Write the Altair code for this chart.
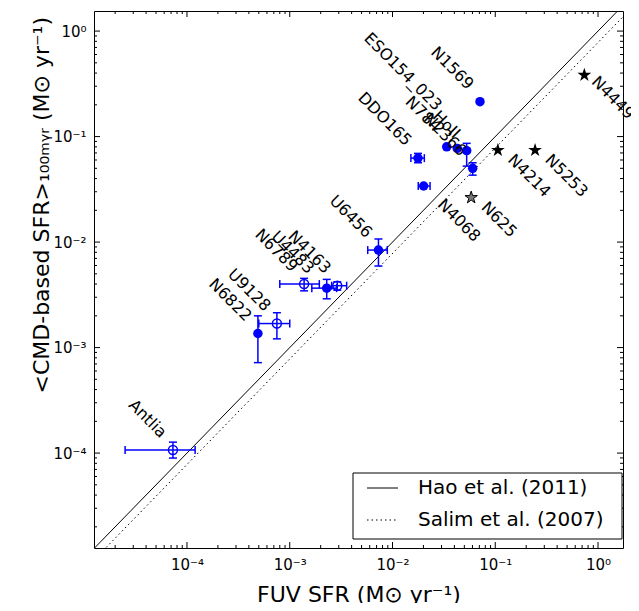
import altair as alt
import pandas as pd

# ---------------- data ----------------
names = ["Antlia", "N6822", "U9128", "N6789", "U4483", "N4163", "U6456", "DDO165",
         "N4068", "ESO154_023", "N784", "HoII", "N2366", "N1569",
         "N625", "N4214", "N5253", "N4449"]
fuv = [7.3e-5, 4.9e-4, 7.5e-4, 1.38e-3, 2.29e-3, 2.9e-3, 7.3e-3, 1.77e-2,
       2.01e-2, 3.37e-2, 4.27e-2, 5.27e-2, 6.03e-2, 7.1e-2,
       5.83e-2, 0.106, 0.244, 0.736]
cmd = [1.07e-4, 1.36e-3, 1.69e-3, 4.0e-3, 3.66e-3, 3.86e-3, 8.4e-3, 6.25e-2,
       3.4e-2, 8.0e-2, 7.73e-2, 7.36e-2, 5.0e-2, 0.214,
       2.64e-2, 7.44e-2, 7.44e-2, 0.383]
fuv_lo = [2.5e-5, None, 5.0e-4, 8.0e-4, 1.64e-3, 2.56e-3, 5.74e-3, 1.51e-2,
          1.78e-2, None, None, None, None, None, None, None, None, None]
fuv_hi = [1.2e-4, None, 1.0e-3, 1.94e-3, 2.86e-3, 3.58e-3, 8.9e-3, 2.04e-2,
          2.32e-2, None, None, None, None, None, None, None, None, None]
cmd_lo = [8.97e-5, 7.2e-4, 1.21e-3, 3.45e-3, 2.9e-3, 3.5e-3, 5.93e-3, 5.65e-2,
          None, None, None, 5.25e-2, 4.31e-2, None, None, None, None, None]
cmd_hi = [1.27e-4, 2.0e-3, 2.14e-3, 4.53e-3, 4.43e-3, 4.2e-3, 1.07e-2, 6.93e-2,
          None, None, None, 8.63e-2, 5.65e-2, None, None, None, None, None]
kind = ["open", "filled", "open", "open", "filled", "open", "filled", "filled",
        "filled", "filled", "filled", "filled", "filled", "filled",
        "star_grey", "star", "star", "star"]
label_side = ["left"] * 8 + ["right"] + ["left"] * 5 + ["right"] * 4

line_x = [1.0e-5, 2.0]
hao_y = [1.0e-5, 2.0]
salim_y = [7.8e-6, 1.56]
rel_names = ["Hao et al. (2011)", "Salim et al. (2007)"]

major_vals = [1e-4, 1e-3, 1e-2, 1e-1, 1.0]
major_labels = ["10\u207b\u2074", "10\u207b\u00b3", "10\u207b\u00b2", "10\u207b\u00b9", "10\u2070"]

x_domain = [1.245e-5, 1.75]
y_domain = [1.26e-5, 1.55]

W, H = 529, 537

# ---------------- frames ----------------
df = pd.DataFrame({"name": names, "fuv": fuv, "cmd": cmd, "kind": kind, "side": label_side})
err_df = pd.DataFrame({"name": names, "fuv": fuv, "cmd": cmd, "fuv_lo": fuv_lo,
                       "fuv_hi": fuv_hi, "cmd_lo": cmd_lo, "cmd_hi": cmd_hi})
xerr_df = err_df.dropna(subset=["fuv_lo"])[["fuv", "cmd", "fuv_lo", "fuv_hi"]]
yerr_df = err_df.dropna(subset=["cmd_lo"])[["fuv", "cmd", "cmd_lo", "cmd_hi"]]
hao_df = pd.DataFrame({"x": line_x, "y": hao_y})
salim_df = pd.DataFrame({"x": line_x, "y": salim_y})

minor_vals = [k * 10.0 ** e for e in range(-5, 1) for k in range(2, 10)]
minor_x = [v for v in minor_vals if x_domain[0] <= v <= x_domain[1]]
minor_y = [v for v in minor_vals if y_domain[0] <= v <= y_domain[1]]

label_expr = " : ".join(
    f"abs(datum.value - {v}) < {v * 0.01} ? '{lab}'" for v, lab in zip(major_vals, major_labels)
) + " : ''"

FONT = "DejaVu Sans"
BLUE = "#0000ff"
# five-pointed star symbol path (unit box)
STAR = ("M0,-1L0.2245,-0.309L0.9511,-0.309L0.3633,0.118L0.5878,0.809L0,0.382"
        "L-0.5878,0.809L-0.3633,0.118L-0.9511,-0.309L-0.2245,-0.309Z")

xscale = alt.Scale(type="log", domain=x_domain, nice=False)
yscale = alt.Scale(type="log", domain=y_domain, nice=False)

X_AXIS = alt.Axis(values=major_vals, labelExpr=label_expr,
                  ticks=False, domain=False, grid=False, labelFont=FONT,
                  labelFontSize=15, labelColor="black", labelPadding=9,
                  title="FUV SFR (M\u2299 yr\u207b\u00b9)", titleFont=FONT,
                  titleFontSize=22, titleFontWeight="normal", titleColor="black",
                  titlePadding=12)
Y_AXIS = alt.Axis(values=major_vals, labelExpr=label_expr,
                  ticks=False, domain=False, grid=False, labelFont=FONT,
                  labelFontSize=15, labelColor="black", labelPadding=8,
                  labelBaseline="middle",
                  title="<CMD-based SFR>\u2081\u2080\u2080\u2098\u1d67\u1d63 (M\u2299 yr\u207b\u00b9)",
                  titleFont=FONT, titleFontSize=22, titleFontWeight="normal",
                  titleColor="black", titleAngle=270, titleAlign="left",
                  titleBaseline="alphabetic", titleX=-46, titleY=382)


def X(field):
    return alt.X(field, type="quantitative", scale=xscale, axis=X_AXIS)


def Y(field):
    return alt.Y(field, type="quantitative", scale=yscale, axis=Y_AXIS)


opened = alt.Chart(df).transform_filter(alt.FieldEqualPredicate(field="kind", equal="open")).mark_point(
    shape="circle", filled=False, size=80, color=BLUE, strokeWidth=1.5, opacity=1).encode(
    x=X("fuv"), y=Y("cmd"))

# inward ticks on all four sides, placed through the scales
tick_layers = []
for vals, length in ((major_vals, 6), (minor_x, 3)):
    tdf = pd.DataFrame({"v": vals})
    for y0, y1 in ((H, H - length), (0, length)):
        tick_layers.append(alt.Chart(tdf).mark_rule(color="black", strokeWidth=1).encode(
            x=X("v"), y=alt.value(y0), y2=alt.value(y1)))
for vals, length in ((major_vals, 6), (minor_y, 3)):
    tdf = pd.DataFrame({"v": vals})
    for x0, x1 in ((0, length), (W, W - length)):
        tick_layers.append(alt.Chart(tdf).mark_rule(color="black", strokeWidth=1).encode(
            y=Y("v"), x=alt.value(x0), x2=alt.value(x1)))

hao_line = alt.Chart(hao_df).mark_line(clip=True, color="black", strokeWidth=1).encode(
    x=X("x"), y=Y("y"))
salim_line = alt.Chart(salim_df).mark_line(clip=True, color="black", strokeWidth=1,
                                           strokeDash=[1.5, 3]).encode(x=X("x"), y=Y("y"))

xerr = alt.Chart(xerr_df).mark_rule(color=BLUE, strokeWidth=1.5).encode(
    x=X("fuv_lo"), x2="fuv_hi:Q", y=Y("cmd"))
yerr = alt.Chart(yerr_df).mark_rule(color=BLUE, strokeWidth=1.5).encode(
    x=X("fuv"), y=Y("cmd_lo"), y2="cmd_hi:Q")
caps = []
for f in ("fuv_lo", "fuv_hi"):
    caps.append(alt.Chart(xerr_df).mark_tick(
        orient="vertical", size=8, thickness=1.5, color=BLUE, opacity=1).encode(
        x=X(f), y=Y("cmd")))
for f in ("cmd_lo", "cmd_hi"):
    caps.append(alt.Chart(yerr_df).mark_tick(
        orient="horizontal", size=8, thickness=1.5, color=BLUE, opacity=1).encode(
        x=X("fuv"), y=Y(f)))

filled = alt.Chart(df).transform_filter(alt.FieldEqualPredicate(field="kind", equal="filled")).mark_point(
    shape="circle", filled=True, size=90, color=BLUE, opacity=1).encode(x=X("fuv"), y=Y("cmd"))
stars = alt.Chart(df).transform_filter(alt.FieldEqualPredicate(field="kind", equal="star")).mark_point(
    shape=STAR, filled=True, size=210, color="black", opacity=1).encode(x=X("fuv"), y=Y("cmd"))
star_grey = alt.Chart(df).transform_filter(alt.FieldEqualPredicate(field="kind", equal="star_grey")).mark_point(
    shape=STAR, filled=True, size=170, fill="#777777", stroke="black", strokeWidth=1,
    opacity=1).encode(x=X("fuv"), y=Y("cmd"))

# label offsets (pixels, in the rotated text frame)
special = {"ESO154_023": (-33, -17), "N784": (-27, 5), "U4483": (-23, 4), "N4068": (23, 4.5),
           "N4449": (10, 1)}
default_off = {"left": (-17, 1), "right": (14, 1)}

groups = []
for side, off in default_off.items():
    members = [n for n, s in zip(names, label_side) if s == side and n not in special]
    groups.append((members, side, off))
for nm, off in special.items():
    groups.append(([nm], label_side[names.index(nm)], off))

label_layers = []
for members, side, (ddx, ddy) in groups:
    label_layers.append(
        alt.Chart(df).transform_filter(alt.FieldOneOfPredicate(field="name", oneOf=members))
        .mark_text(angle=45, align="right" if side == "left" else "left",
                   baseline="alphabetic", dx=ddx, dy=ddy, font=FONT, fontSize=16,
                   color="black")
        .encode(x=X("fuv"), y=Y("cmd"), text=alt.Text("name", type="nominal")))

# legend box (guide drawn in pixel space)
leg_df = pd.DataFrame({"rel": rel_names})
LX0, LX1, LY0, LY1 = 259, 528, 462, 528
ROWS = [477, 509]
legend_layers = [
    alt.Chart(leg_df).transform_filter(alt.FieldEqualPredicate(field="rel", equal=rel_names[0]))
    .mark_rect(fill="white", stroke="black", strokeWidth=1)
    .encode(x=alt.value(LX0), x2=alt.value(LX1), y=alt.value(LY0), y2=alt.value(LY1))
]
for i, rel in enumerate(rel_names):
    sub = alt.Chart(leg_df).transform_filter(alt.FieldEqualPredicate(field="rel", equal=rel))
    rule_kw = dict(color="black", strokeWidth=1)
    if i == 1:
        rule_kw["strokeDash"] = [1.5, 3]
    legend_layers.append(sub.mark_rule(**rule_kw).encode(
        x=alt.value(273), x2=alt.value(304), y=alt.value(ROWS[i])))
    legend_layers.append(sub.mark_text(align="left", baseline="middle", font=FONT,
                                       fontSize=20, color="black").encode(
        x=alt.value(324), y=alt.value(ROWS[i]), text=alt.Text("rel", type="nominal")))

chart = alt.layer(
    opened, *tick_layers, hao_line, salim_line, xerr, yerr, *caps,
    filled, stars, star_grey, *label_layers, *legend_layers
).properties(
    width=W, height=H,
    padding={"left": 86, "top": 3, "right": 8, "bottom": 55},
    autosize=alt.AutoSizeParams(type="none"),
).configure(background="white").configure_view(stroke="black", strokeWidth=1)

chart.save("out.html", embed_options={"renderer": "svg", "actions": False})
